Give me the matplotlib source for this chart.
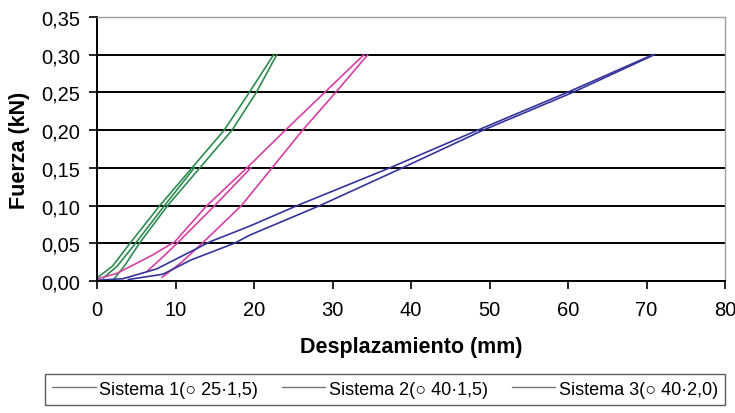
import matplotlib
matplotlib.use("Agg")
import matplotlib.pyplot as plt
from matplotlib.lines import Line2D

plt.rcParams['font.family'] = ['Liberation Sans', 'DejaVu Sans']

# ---- data ----
# Sistema 1 (green): loading / unloading branches
s1_load_x = [0.0, 2.0, 4.2, 8.0, 12.1, 16.2, 19.4, 22.5]
s1_load_y = [0.004, 0.020, 0.050, 0.100, 0.150, 0.200, 0.250, 0.300]
s1_unld_x = [22.9, 20.3, 17.2, 13.1, 9.0, 5.4, 3.5, 2.2]
s1_unld_y = [0.300, 0.250, 0.200, 0.150, 0.100, 0.050, 0.020, 0.003]
s1_rel_x = [0.8, 2.6, 4.9, 8.6, 12.4]
s1_rel_y = [0.004, 0.020, 0.050, 0.100, 0.150]

# Sistema 2 (magenta)
s2_load_x = [0.1, 2.5, 4.2, 7.0, 9.9, 14.0, 19.1, 24.0, 29.0, 34.0]
s2_load_y = [0.003, 0.010, 0.019, 0.034, 0.052, 0.100, 0.150, 0.200, 0.250, 0.300]
s2_unld_x = [34.5, 30.4, 26.2, 22.3, 18.4, 13.4, 10.8, 8.3]
s2_unld_y = [0.300, 0.250, 0.200, 0.150, 0.100, 0.050, 0.025, 0.005]
s2_rel_x = [6.4, 8.2, 10.2, 12.6, 15.0, 19.6]
s2_rel_y = [0.013, 0.030, 0.050, 0.075, 0.100, 0.150]

# Sistema 3 (blue)
s3_load_x = [0.0, 3.3, 7.6, 14.4, 19.5, 25.5, 37.3, 48.5, 59.9, 70.8]
s3_load_y = [0.001, 0.003, 0.016, 0.052, 0.073, 0.100, 0.150, 0.200, 0.250, 0.300]
s3_unld_x = [71.0, 60.6, 49.2, 38.9, 28.4, 19.5, 17.5, 12.0, 8.4, 4.0]
s3_unld_y = [0.300, 0.250, 0.200, 0.150, 0.100, 0.061, 0.050, 0.028, 0.009, 0.002]

series_labels = ['Sistema 1(○ 25·1,5)', 'Sistema 2(○ 40·1,5)', 'Sistema 3(○ 40·2,0)']

x_ticks = [0, 10, 20, 30, 40, 50, 60, 70, 80]
y_ticks = [0.00, 0.05, 0.10, 0.15, 0.20, 0.25, 0.30, 0.35]
y_ticklabels = ['0,00', '0,05', '0,10', '0,15', '0,20', '0,25', '0,30', '0,35']

green = '#2e8b4f'
magenta = '#d63fa3'
blue = '#34349a'

fig = plt.figure(figsize=(7.35, 4.14), dpi=100)
ax = fig.add_axes([97/735, 1-282/414, 628/735, 264/414])

lw = 1.2
for xs, ys in [(s1_load_x, s1_load_y), (s1_unld_x, s1_unld_y), (s1_rel_x, s1_rel_y)]:
    ax.plot(xs, ys, color=green, lw=lw)
for xs, ys in [(s2_load_x, s2_load_y), (s2_unld_x, s2_unld_y), (s2_rel_x, s2_rel_y)]:
    ax.plot(xs, ys, color=magenta, lw=lw)
for xs, ys in [(s3_load_x, s3_load_y), (s3_unld_x, s3_unld_y)]:
    ax.plot(xs, ys, color=blue, lw=lw)

ax.set_xlim(0, 80)
ax.set_ylim(0, 0.35)
ax.set_xticks(x_ticks)
ax.set_xticklabels([str(t) for t in x_ticks], fontsize=14.5)
ax.set_yticks(y_ticks)
ax.set_yticklabels(y_ticklabels, fontsize=14.5)
ax.tick_params(axis='both', direction='out', length=6, width=1.2, color='black', pad=6)
ax.tick_params(axis='x', pad=8)

ax.set_axisbelow(True)
ax.yaxis.grid(True, color='black', lw=1.4)
ax.get_ygridlines()[-1].set_visible(False)

for side in ['left', 'bottom']:
    ax.spines[side].set_color('black')
    ax.spines[side].set_linewidth(1.4)
for side in ['top', 'right']:
    ax.spines[side].set_color('#a09a9a')
    ax.spines[side].set_linewidth(1.0)

ax.set_xlabel('Desplazamiento (mm)', fontsize=15.5, fontweight='bold', labelpad=12)
ax.set_ylabel('Fuerza (kN)', fontsize=15.5, fontweight='bold', labelpad=8)

handles = [Line2D([], [], color='#777777', lw=1.0) for _ in series_labels]
leg = fig.legend(handles, series_labels, loc='lower left',
                 bbox_to_anchor=(45/735, 1-406/414, 680/735, 35/414),
                 mode='expand', ncol=3, fontsize=13, frameon=True, fancybox=False,
                 edgecolor='#333333', handlelength=2.4, handletextpad=0.2,
                 borderaxespad=0.0, columnspacing=1.0)
leg.get_frame().set_linewidth(1.0)

fig.savefig('out.png', dpi=100)
